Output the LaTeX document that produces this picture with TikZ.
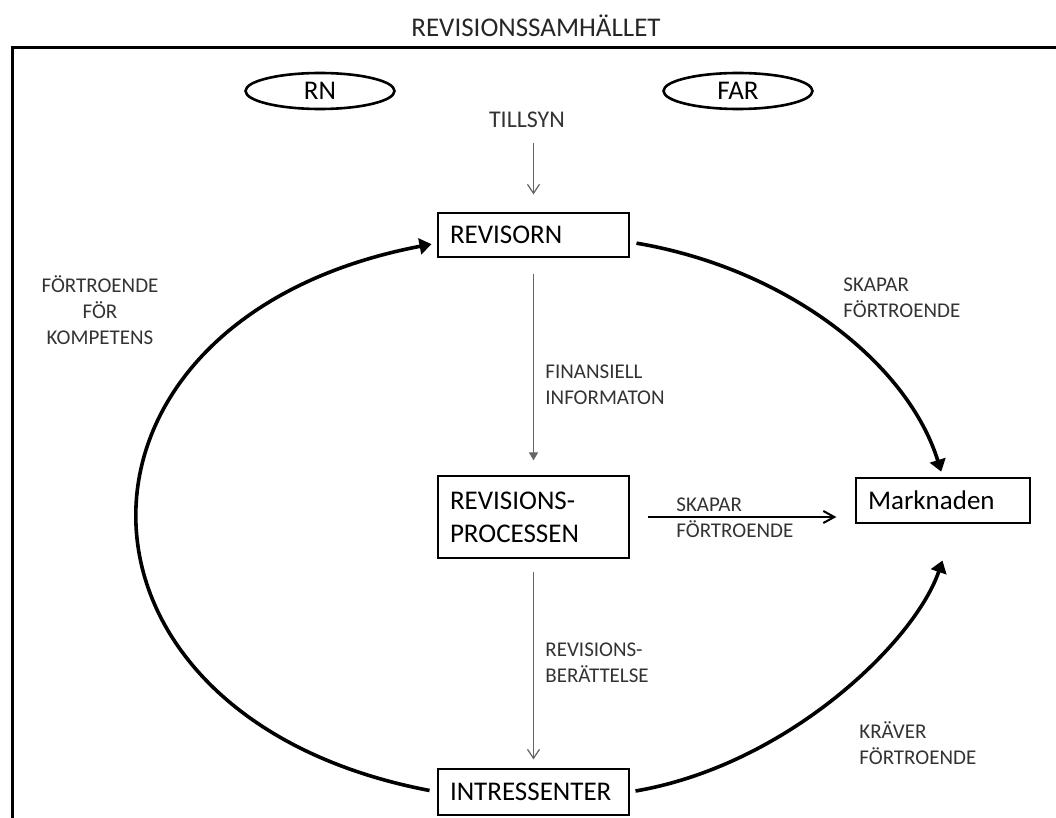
\documentclass[tikz,border=0pt]{standalone}
\usepackage{fontspec}
\setmainfont{Carlito}
\newcommand*{\boxfont}{\fontsize{13.5}{16.5}\selectfont}
\newcommand*{\notefont}{\fontsize{10.5}{13}\selectfont}
\usetikzlibrary{arrows.meta, shapes.geometric}
\tikzstyle{frameline} = [line width=1.5pt]
\tikzstyle{heading} = [inner sep=0pt, font=\boxfont, text=black!85]
\tikzstyle{box} = [
    draw,
    line width=0.6pt,
    rectangle,
    minimum height=22pt,
    text width=83.5pt,
    inner xsep=6pt,
    inner ysep=0pt,
    align=left,
    font=\boxfont
]
\tikzstyle{org} = [draw, ellipse, line width=1.3pt, minimum width=74.5pt, minimum height=18pt, inner sep=0pt, font=\boxfont]
\tikzstyle{note} = [inner sep=0pt, align=left, font=\notefont, text=black!80]
\tikzstyle{flow} = [-{Straight Barb[length=4.5pt, width=6pt]}, black!60, line width=0.6pt]
\tikzstyle{info} = [-{Triangle[length=4pt, width=4.5pt]}, black!60, line width=0.6pt]
\tikzstyle{trust} = [-{Straight Barb[length=5.5pt, width=6pt]}, line width=1pt]
\tikzstyle{bigarc} = [-{Triangle[length=6pt, width=8pt]}, line width=1.8pt]

\begin{document}
\begin{tikzpicture}[x=0.5pt, y=-0.5pt]
    \useasboundingbox (0, 0) rectangle (1056, 818);
    \clip (0, 0) rectangle (1056, 818);

    % Frame.
    \draw [frameline] (1056, 47.5) -| (12.5, 818);
    \node (title) [heading] at (536, 26) {REVISIONSSAMHÄLLET};

    % Nodes.
    \node (rn) [org] at (320, 91) {RN};
    \node (far) [org] at (738, 91) {FAR};
    \node (tillsyn) [note, font=\fontsize{12}{14}\selectfont] at (527, 120) {TILLSYN};

    \node (revisorn) [box] at (533.5, 235) {REVISORN};
    \node (processen) [box, minimum height=41pt] at (533.5, 517) {REVISIONS-\\PROCESSEN};
    \node (intressenter) [box, minimum height=23pt] at (533.5, 792) {INTRESSENTER};
    \node (marknaden) [box, text width=75pt, minimum height=22.5pt] at (943, 500.5) {Marknaden};

    % Labels.
    \node (kompetens) [note, align=center] at (100, 310) {FÖRTROENDE\\FÖR\\KOMPETENS};
    \node (finans) [note, anchor=west] at (545, 385) {FINANSIELL\\INFORMATON};
    \node (berattelse) [note, anchor=west] at (545, 663) {REVISIONS-\\BERÄTTELSE};
    \node (skapar mid) [note, anchor=west] at (676, 518) {SKAPAR\\FÖRTROENDE};
    \node (skapar top) [note, anchor=west] at (843, 298) {SKAPAR\\FÖRTROENDE};
    \node (kraver) [note, anchor=west] at (859, 743) {KRÄVER\\FÖRTROENDE};

    % Paths.
    \draw [flow, shorten <=7.5pt, shorten >=9pt] (revisorn |- tillsyn.south) -- (revisorn);
    \draw [info, shorten <=8pt, shorten >=7.5pt] (revisorn) -- (processen);
    \draw [flow, shorten <=6.5pt, shorten >=4.5pt] (processen) -- (intressenter);
    \draw [trust, shorten <=9pt, shorten >=9.5pt] (processen) -- (processen -| marknaden.west);

    % Big circle.
    \draw [bigarc, shorten <=4pt, shorten >=3pt] (intressenter.west)
        .. controls +(-398, -76) and +(-398, 76) .. ([yshift=-4pt]revisorn.west);
    \draw [bigarc, shorten <=3.5pt, shorten >=3pt] ([yshift=-3.5pt]revisorn.east)
        .. controls +(159, 27) and +(-35, -113) .. (marknaden.north);
    \draw [bigarc, shorten <=3pt, shorten >=19.5pt] (intressenter.east)
        .. controls +(158, -27) and +(-40, 118) .. ([xshift=6pt]marknaden.south);
\end{tikzpicture}
\end{document}
